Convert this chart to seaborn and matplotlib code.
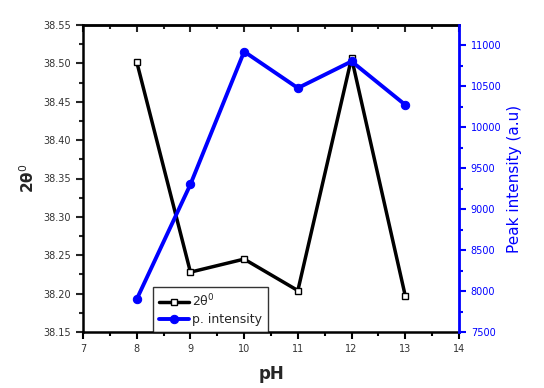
import matplotlib
matplotlib.use("Agg")
import matplotlib.pyplot as plt
import seaborn as sns
import pandas as pd
from matplotlib.ticker import MultipleLocator

sns.set_style("ticks")
plt.rcParams['font.family'] = ['DejaVu Sans']

ph = [8, 9, 10, 11, 12, 13]
two_theta = [38.502, 38.228, 38.245, 38.204, 38.507, 38.197]
intensity = [7900, 9300, 10920, 10475, 10800, 10270]

df = pd.DataFrame({"pH": ph, "theta": two_theta, "inten": intensity})

fig = plt.figure(figsize=(5.44, 3.88), dpi=100)
ax = fig.add_axes([83/544, 1-332/388, (459-83)/544, (332-25)/388])
ax2 = ax.twinx()

sns.lineplot(data=df, x="pH", y="theta", ax=ax, color="black", linewidth=2.5,
             marker="s", markersize=5, markerfacecolor="white",
             markeredgecolor="black", markeredgewidth=1, label="2θ$^0$", legend=False)
sns.lineplot(data=df, x="pH", y="inten", ax=ax2, color="#0000ff", linewidth=2.8,
             marker="o", markersize=6, markerfacecolor="#0000ff",
             markeredgecolor="#0000ff", label="p. intensity", legend=False)

ax.set_xlim(7, 14)
ax.set_ylim(38.15, 38.55)
ax2.set_ylim(7500, 7500 + 3500 * (332 - 25) / (332 - 45))

ax.xaxis.set_major_locator(MultipleLocator(1))
ax.xaxis.set_minor_locator(MultipleLocator(0.5))
ax.yaxis.set_major_locator(MultipleLocator(0.05))
ax.yaxis.set_minor_locator(MultipleLocator(0.025))
ax2.yaxis.set_major_locator(MultipleLocator(500))
ax2.yaxis.set_minor_locator(MultipleLocator(250))

for sp in ["left", "bottom", "top"]:
    ax.spines[sp].set_linewidth(1.8)
    ax.spines[sp].set_color("black")
ax.spines["right"].set_visible(False)
for sp in ["left", "bottom", "top"]:
    ax2.spines[sp].set_visible(False)
ax2.spines["right"].set_linewidth(2)
ax2.spines["right"].set_color("#0000ff")

ax.tick_params(axis="x", which="both", direction="out", labelsize=7,
               width=1.5, colors="black")
ax.tick_params(axis="x", which="major", length=5)
ax.tick_params(axis="x", which="minor", length=3)
ax.tick_params(axis="y", which="major", length=5, width=1.5, labelsize=7, direction="out")
ax.tick_params(axis="y", which="minor", length=3, width=1.5, direction="out")
ax2.tick_params(axis="y", which="major", length=5, width=1.5, labelsize=7,
                colors="#0000ff", direction="out")
ax2.tick_params(axis="y", which="minor", length=3, width=1.5, colors="#0000ff",
                direction="out")
for lbl in ax.get_yticklabels():
    lbl.set_color("#333333")
for lbl in ax.get_xticklabels():
    lbl.set_color("#333333")

# top ticks pointing inward
top = ax.secondary_xaxis("top")
top.xaxis.set_major_locator(MultipleLocator(1))
top.xaxis.set_minor_locator(MultipleLocator(0.5))
top.tick_params(axis="x", which="both", direction="in", width=1.5, labeltop=False)
top.tick_params(axis="x", which="major", length=5)
top.tick_params(axis="x", which="minor", length=3)
top.spines["top"].set_linewidth(1.8)

ax.set_xlabel("pH", fontsize=12, fontweight="bold", labelpad=8)
ax.set_ylabel("2θ$^0$", fontsize=11, fontweight="bold", labelpad=5)
ax2.set_ylabel("Peak intensity (a.u)", fontsize=11, color="#0000ff", labelpad=4)

h1, l1 = ax.get_legend_handles_labels()
h2, l2 = ax2.get_legend_handles_labels()
leg = ax.legend(h1 + h2, l1 + l2, loc="lower left", bbox_to_anchor=(70/376, 0),
                prop={"size": 9}, frameon=True, fancybox=False, edgecolor="black",
                borderaxespad=0, handlelength=2.4, handletextpad=0.3,
                borderpad=0.45, labelspacing=0.3)
leg.get_frame().set_linewidth(1)
leg.set_zorder(10)

fig.savefig("out.png", dpi=100)
